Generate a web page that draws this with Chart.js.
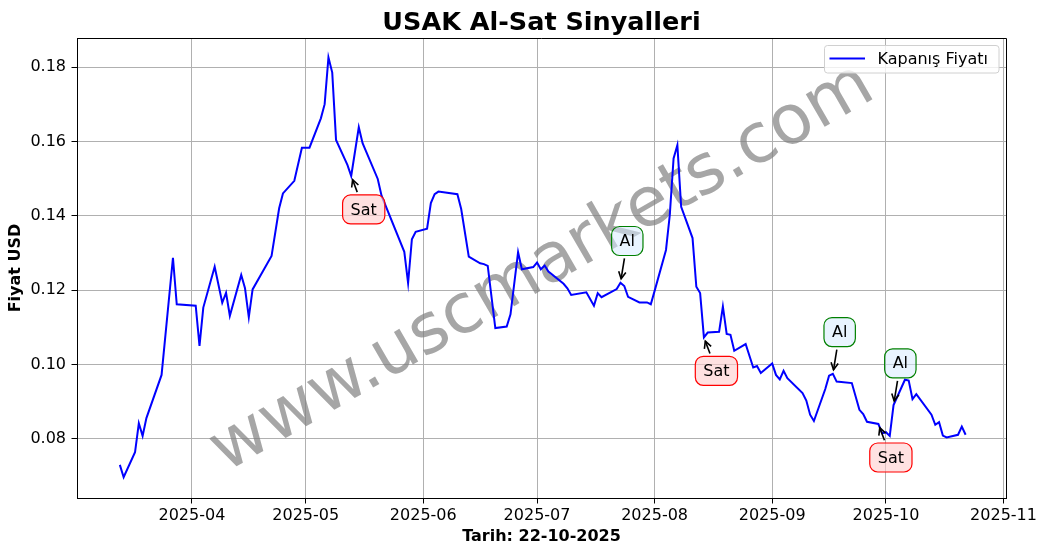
<!DOCTYPE html>
<html>
<head>
<meta charset="utf-8">
<script src="https://cdn.jsdelivr.net/npm/chart.js@4/dist/chart.umd.min.js"></script>
<style>
html,body{margin:0;padding:0;background:#fff;}
#wrap{width:1047px;height:554px;position:relative;}
canvas{display:block;}
</style>
</head>
<body>
<div id="wrap"><canvas id="c" width="1047" height="554"></canvas></div>
<script>
// ---------- data ----------
const dates = [
 '2025-03-13','2025-03-14','2025-03-17','2025-03-18','2025-03-19','2025-03-20','2025-03-24','2025-03-27','2025-03-28',
 '2025-04-02','2025-04-03','2025-04-04','2025-04-07','2025-04-09','2025-04-10','2025-04-11','2025-04-14','2025-04-15',
 '2025-04-16','2025-04-17','2025-04-22','2025-04-24','2025-04-25','2025-04-28','2025-04-30',
 '2025-05-02','2025-05-05','2025-05-06','2025-05-07','2025-05-08','2025-05-09','2025-05-12','2025-05-13','2025-05-15',
 '2025-05-16','2025-05-20','2025-05-21','2025-05-27','2025-05-28','2025-05-29','2025-05-30',
 '2025-06-02','2025-06-03','2025-06-04','2025-06-05','2025-06-10','2025-06-11','2025-06-13','2025-06-16','2025-06-17',
 '2025-06-18','2025-06-20','2025-06-23','2025-06-24','2025-06-26','2025-06-27','2025-06-30',
 '2025-07-01','2025-07-02','2025-07-03','2025-07-04','2025-07-08','2025-07-09','2025-07-10','2025-07-14','2025-07-16',
 '2025-07-17','2025-07-18','2025-07-22','2025-07-23','2025-07-24','2025-07-25','2025-07-28','2025-07-30','2025-07-31',
 '2025-08-01','2025-08-04','2025-08-05','2025-08-06','2025-08-07','2025-08-08','2025-08-11','2025-08-12','2025-08-13',
 '2025-08-14','2025-08-15','2025-08-18','2025-08-19','2025-08-20','2025-08-21','2025-08-22','2025-08-25','2025-08-27',
 '2025-08-28','2025-08-29',
 '2025-09-01','2025-09-02','2025-09-03','2025-09-04','2025-09-05','2025-09-09','2025-09-10','2025-09-11','2025-09-12',
 '2025-09-15','2025-09-16','2025-09-17','2025-09-18','2025-09-22','2025-09-24','2025-09-25','2025-09-26','2025-09-29',
 '2025-09-30',
 '2025-10-01','2025-10-02','2025-10-03','2025-10-06','2025-10-07','2025-10-08','2025-10-09','2025-10-13','2025-10-14',
 '2025-10-15','2025-10-16','2025-10-17','2025-10-20','2025-10-21','2025-10-22'
];
const closes = [
 0.0730,0.0697,0.0764,0.0842,0.0808,0.0856,0.0972,0.1287,0.1162,
 0.1158,0.1050,0.1153,0.1263,0.1166,0.1193,0.1131,0.1241,0.1205,
 0.1127,0.1202,0.1292,0.1420,0.1460,0.1494,0.1583,
 0.1583,0.1662,0.1700,0.1826,0.1785,0.1604,0.1537,0.1507,0.1638,
 0.1595,0.1499,0.1454,0.1303,0.1219,0.1337,0.1357,
 0.1365,0.1434,0.1458,0.1465,0.1458,0.1418,0.1290,0.1272,0.1270,
 0.1265,0.1098,0.1102,0.1135,0.1302,0.1256,0.1262,
 0.1274,0.1256,0.1266,0.1250,0.1217,0.1205,0.1187,0.1194,0.1158,
 0.1192,0.1181,0.1203,0.1220,0.1211,0.1182,0.1167,0.1167,0.1162,
 0.1198,0.1308,0.1402,0.1554,0.1590,0.1424,0.1340,0.1209,0.1192,
 0.1073,0.1086,0.1088,0.1156,0.1082,0.1080,0.1037,0.1055,0.0992,
 0.0996,0.0977,
 0.1003,0.0972,0.0960,0.0983,0.0963,0.0923,0.0903,0.0865,0.0848,
 0.0934,0.0970,0.0975,0.0954,0.0950,0.0878,0.0867,0.0846,0.0840,
 0.0815,
 0.0818,0.0808,0.0891,0.0959,0.0957,0.0907,0.0920,0.0865,0.0838,
 0.0845,0.0809,0.0804,0.0811,0.0833,0.0811
];
const signalDates = ['2025-05-13','2025-07-23','2025-08-14','2025-09-17','2025-09-29','2025-10-03'];
const signalTypes = ['Sat','Al','Sat','Al','Sat','Al'];
const xTickDates  = ['2025-04-01','2025-05-01','2025-06-01','2025-07-01','2025-08-01','2025-09-01','2025-10-01','2025-11-01'];
const xTickLabels = ['2025-04','2025-05','2025-06','2025-07','2025-08','2025-09','2025-10','2025-11'];
const yTicks = [0.08,0.10,0.12,0.14,0.16,0.18];
const titleText = 'USAK Al-Sat Sinyalleri';
const seriesLabel = 'Kapanış Fiyatı';
const xTitle = 'Tarih: 22-10-2025';
const yTitle = 'Fiyat USD';
const watermark = 'www.uscmarkets.com';

// ---------- chart ----------
const DAY = 86400000;
const T0 = Date.parse('2025-04-01');
const FONT = 'DejaVu Sans';

const points = dates.map((d, i) => ({x: Date.parse(d), y: closes[i]}));

function roundRect(ctx, x, y, w, h, r) {
  ctx.beginPath();
  ctx.moveTo(x + r, y);
  ctx.lineTo(x + w - r, y);
  ctx.arcTo(x + w, y, x + w, y + r, r);
  ctx.lineTo(x + w, y + h - r);
  ctx.arcTo(x + w, y + h, x + w - r, y + h, r);
  ctx.lineTo(x + r, y + h);
  ctx.arcTo(x, y + h, x, y + h - r, r);
  ctx.lineTo(x, y + r);
  ctx.arcTo(x, y, x + r, y, r);
  ctx.closePath();
}

const decorPlugin = {
  id: 'decor',
  beforeDatasetsDraw(chart) {
    const {ctx, chartArea: a} = chart;
    ctx.save();
    ctx.translate((a.left + a.right) / 2 + 1, (a.top + a.bottom) / 2 + 1);
    ctx.rotate(-30 * Math.PI / 180);
    ctx.font = '69px "' + FONT + '"';
    ctx.fillStyle = 'rgba(128,128,128,0.7)';
    ctx.textAlign = 'center';
    ctx.textBaseline = 'middle';
    ctx.fillText(watermark, 0, 0);
    ctx.restore();
  },
  afterDatasetsDraw(chart) {
    const {ctx, chartArea: a, scales} = chart;
    const xs = scales.x, ys = scales.y;
    ctx.save();
    // frame (top/right spines)
    ctx.strokeStyle = '#000';
    ctx.lineWidth = 1;
    ctx.beginPath();
    ctx.moveTo(a.left, a.top + 0.5);
    ctx.lineTo(a.right + 0.5, a.top + 0.5);
    ctx.lineTo(a.right + 0.5, a.bottom);
    ctx.stroke();

    // annotations
    ctx.font = '16px "' + FONT + '"';
    signalDates.forEach((d, i) => {
      const idx = dates.indexOf(d);
      const px = xs.getPixelForValue(Date.parse(d));
      const py = ys.getPixelForValue(closes[idx]);
      const isSell = signalTypes[i] === 'Sat';
      const bx = px + (isSell ? 12.5 : 6.8);
      const by = py + (isSell ? 33.5 : -41.7);
      const tw = ctx.measureText(signalTypes[i]).width;
      const w = tw + 16, h = 29;
      // arrow
      const dx = px - bx, dy = py - by;
      const len = Math.hypot(dx, dy);
      const ux = dx / len, uy = dy / len;
      const tEdge = Math.min(Math.abs((w / 2) / (ux || 1e-9)), Math.abs((h / 2) / (uy || 1e-9)));
      const sx = bx + ux * (tEdge + 3), sy = by + uy * (tEdge + 3);
      const ex = px - ux * 4, ey = py - uy * 4;
      ctx.strokeStyle = '#000';
      ctx.lineWidth = 1.6;
      ctx.lineCap = 'butt';
      ctx.beginPath();
      ctx.moveTo(sx, sy);
      ctx.lineTo(ex, ey);
      ctx.stroke();
      const hl = 7, hw = 3.6;
      ctx.beginPath();
      ctx.moveTo(ex - ux * hl - uy * hw, ey - uy * hl + ux * hw);
      ctx.lineTo(ex, ey);
      ctx.lineTo(ex - ux * hl + uy * hw, ey - uy * hl - ux * hw);
      ctx.stroke();
      // box
      roundRect(ctx, bx - w / 2, by - h / 2, w, h, 8);
      ctx.fillStyle = isSell ? 'rgba(255,205,205,0.6)' : 'rgba(215,235,255,0.55)';
      ctx.fill();
      ctx.strokeStyle = isSell ? '#ff0000' : '#008000';
      ctx.lineWidth = 1.2;
      ctx.stroke();
      ctx.fillStyle = '#000';
      ctx.textAlign = 'center';
      ctx.textBaseline = 'middle';
      ctx.fillText(signalTypes[i], bx, by + 1);
    });

    // legend
    roundRect(ctx, 824.5, 45.5, 174.5, 27.5, 3);
    ctx.fillStyle = 'rgba(255,255,255,0.8)';
    ctx.fill();
    ctx.strokeStyle = '#d0d0d0';
    ctx.lineWidth = 1;
    ctx.stroke();
    ctx.strokeStyle = 'blue';
    ctx.lineWidth = 2;
    ctx.beginPath();
    ctx.moveTo(829.5, 58.5);
    ctx.lineTo(865, 58.5);
    ctx.stroke();
    ctx.fillStyle = '#000';
    ctx.font = '16px "' + FONT + '"';
    ctx.textAlign = 'left';
    ctx.textBaseline = 'middle';
    ctx.fillText(seriesLabel, 877.5, 59.5);

    // title
    ctx.font = 'bold 25.5px "' + FONT + '"';
    ctx.textAlign = 'center';
    ctx.textBaseline = 'alphabetic';
    ctx.fillText(titleText, (a.left + a.right) / 2, 30);
    ctx.restore();
  }
};

new Chart(document.getElementById('c'), {
  type: 'line',
  data: {
    datasets: [{
      label: seriesLabel,
      data: points,
      borderColor: 'blue',
      borderWidth: 2,
      pointRadius: 0,
      tension: 0,
      fill: false
    }]
  },
  options: {
    responsive: false,
    animation: false,
    layout: {padding: {top: 38, right: 41, left: 0, bottom: 0}},
    plugins: {legend: {display: false}, tooltip: {enabled: false}, title: {display: false}},
    scales: {
      x: {
        type: 'linear',
        min: T0 - 30.3 * DAY,
        max: T0 + 214.65 * DAY,
        afterBuildTicks: s => { s.ticks = xTickDates.map(d => ({value: Date.parse(d)})); },
        afterFit: s => { s.height = 56; },
        ticks: {
          callback: (v, i) => xTickLabels[i],
          autoSkip: false, maxRotation: 0, minRotation: 0,
          font: {family: FONT, size: 16}, color: '#000', padding: 2.5
        },
        grid: {color: '#b0b0b0', lineWidth: 1, tickColor: '#000', tickLength: 5.5},
        border: {color: '#000', width: 1},
        title: {display: true, text: xTitle, color: '#000',
                font: {family: FONT, size: 16, weight: 'bold'}, padding: {top: 0, bottom: 7.5}}
      },
      y: {
        type: 'linear',
        min: 0.0641,
        max: 0.1878,
        afterBuildTicks: s => { s.ticks = yTicks.map(v => ({value: v})); },
        afterFit: s => { s.width = 77; },
        ticks: {
          callback: v => Number(v).toFixed(2),
          font: {family: FONT, size: 16}, color: '#000', padding: 5.5
        },
        grid: {color: '#b0b0b0', lineWidth: 1, tickColor: '#000', tickLength: 5.5},
        border: {color: '#000', width: 1},
        title: {display: true, text: yTitle, color: '#000',
                font: {family: FONT, size: 16, weight: 'bold'}, padding: {top: 6.5, bottom: 0}}
      }
    }
  },
  plugins: [decorPlugin]
});
</script>
</body>
</html>
